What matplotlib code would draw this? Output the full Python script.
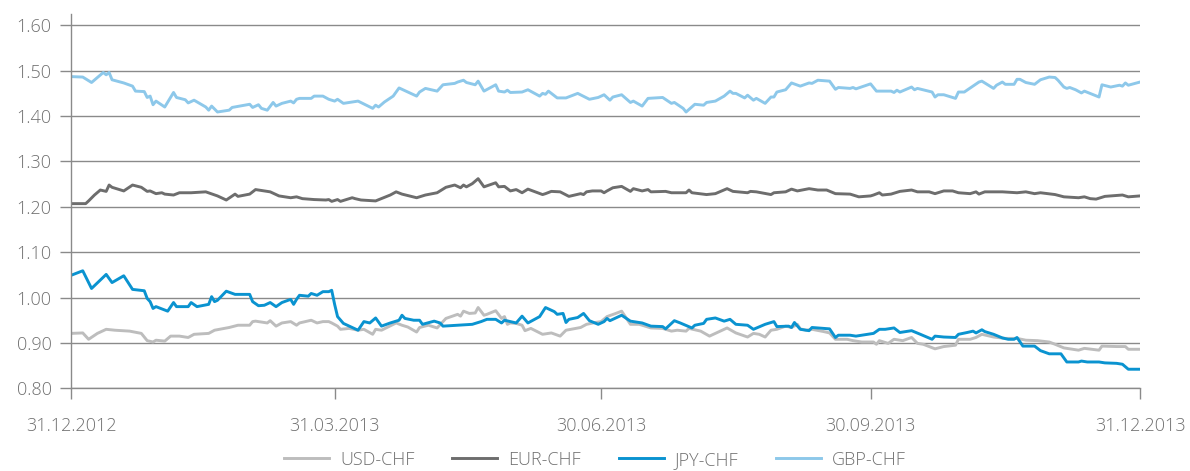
import pandas as pd
import matplotlib
matplotlib.use("Agg")
import matplotlib.pyplot as plt

plt.rcParams['font.family'] = ['Open Sans', 'DejaVu Sans']
plt.rcParams['font.weight'] = 'light'

start = pd.Timestamp('2012-12-31')

# days since 31.12.2012 and rate
usd_days = [0, 4, 6, 9, 12, 15, 20, 24, 26, 28, 29, 32, 34, 37, 40, 42, 47, 49, 54, 57, 61, 62, 63, 64, 67, 68, 70, 72, 75, 77, 78, 80, 82, 84, 86, 88, 89, 91, 92, 95, 98, 100, 103, 104, 106, 111, 113, 115, 118, 119, 122, 125, 128, 132, 133, 134, 136, 138, 139, 141, 142, 145, 147, 148, 149, 150, 152, 154, 155, 157, 161, 164, 167, 169, 174, 176, 179, 181, 183, 186, 188, 191, 194, 198, 202, 205, 207, 210, 211, 215, 218, 224, 227, 231, 233, 235, 237, 239, 241, 244, 246, 248, 249, 251, 253, 257, 259, 261, 265, 267, 270, 274, 275, 276, 279, 281, 284, 287, 289, 291, 295, 298, 302, 303, 307, 309, 311, 315, 319, 323, 326, 330, 334, 336, 339, 344, 346, 351, 352, 357, 360, 361, 365]
usd = [0.921, 0.922, 0.908, 0.921, 0.930, 0.928, 0.926, 0.921, 0.905, 0.902, 0.906, 0.904, 0.915, 0.915, 0.912, 0.919, 0.921, 0.928, 0.934, 0.939, 0.939, 0.947, 0.948, 0.947, 0.944, 0.949, 0.937, 0.944, 0.947, 0.939, 0.944, 0.947, 0.950, 0.944, 0.947, 0.947, 0.944, 0.937, 0.930, 0.932, 0.928, 0.930, 0.919, 0.930, 0.928, 0.944, 0.939, 0.935, 0.924, 0.934, 0.939, 0.933, 0.954, 0.963, 0.959, 0.970, 0.965, 0.966, 0.978, 0.961, 0.963, 0.971, 0.954, 0.958, 0.941, 0.944, 0.943, 0.939, 0.927, 0.932, 0.919, 0.922, 0.915, 0.928, 0.934, 0.941, 0.945, 0.947, 0.958, 0.965, 0.970, 0.941, 0.941, 0.933, 0.932, 0.926, 0.928, 0.926, 0.932, 0.926, 0.915, 0.933, 0.922, 0.913, 0.921, 0.919, 0.913, 0.928, 0.930, 0.937, 0.934, 0.941, 0.931, 0.928, 0.930, 0.925, 0.922, 0.908, 0.908, 0.905, 0.902, 0.902, 0.897, 0.905, 0.899, 0.908, 0.905, 0.912, 0.899, 0.897, 0.887, 0.892, 0.895, 0.908, 0.908, 0.912, 0.919, 0.913, 0.910, 0.910, 0.906, 0.905, 0.902, 0.897, 0.889, 0.884, 0.888, 0.884, 0.893, 0.892, 0.892, 0.886, 0.886]

eur_days = [0, 5, 6, 8, 10, 12, 13, 14, 18, 21, 24, 26, 27, 29, 31, 32, 35, 37, 41, 46, 50, 53, 56, 57, 61, 63, 68, 71, 75, 77, 79, 83, 87, 88, 89, 91, 92, 96, 97, 99, 104, 109, 111, 113, 118, 121, 125, 128, 131, 133, 134, 135, 137, 139, 141, 145, 146, 148, 150, 152, 154, 156, 161, 162, 164, 167, 170, 174, 175, 176, 178, 181, 182, 183, 185, 188, 191, 192, 195, 197, 198, 203, 205, 210, 211, 212, 217, 220, 224, 226, 231, 232, 234, 239, 240, 244, 246, 248, 252, 255, 258, 261, 266, 269, 273, 274, 276, 277, 280, 283, 287, 289, 293, 295, 298, 301, 303, 307, 309, 310, 312, 318, 323, 326, 329, 331, 336, 339, 344, 346, 348, 350, 353, 359, 361, 365]
eur = [1.207, 1.207, 1.213, 1.226, 1.237, 1.234, 1.248, 1.243, 1.235, 1.248, 1.243, 1.234, 1.235, 1.229, 1.231, 1.228, 1.226, 1.231, 1.231, 1.233, 1.224, 1.215, 1.228, 1.223, 1.228, 1.238, 1.233, 1.224, 1.220, 1.222, 1.218, 1.216, 1.215, 1.216, 1.212, 1.216, 1.212, 1.220, 1.218, 1.215, 1.213, 1.226, 1.233, 1.228, 1.220, 1.226, 1.231, 1.243, 1.248, 1.242, 1.248, 1.244, 1.251, 1.262, 1.244, 1.253, 1.244, 1.245, 1.235, 1.238, 1.231, 1.239, 1.227, 1.229, 1.234, 1.233, 1.223, 1.229, 1.227, 1.233, 1.235, 1.235, 1.231, 1.235, 1.242, 1.245, 1.234, 1.240, 1.235, 1.238, 1.233, 1.234, 1.231, 1.231, 1.237, 1.231, 1.227, 1.229, 1.240, 1.234, 1.231, 1.234, 1.233, 1.227, 1.231, 1.233, 1.239, 1.235, 1.240, 1.237, 1.237, 1.229, 1.228, 1.222, 1.224, 1.226, 1.231, 1.226, 1.228, 1.234, 1.237, 1.233, 1.233, 1.229, 1.235, 1.235, 1.231, 1.229, 1.233, 1.228, 1.233, 1.233, 1.231, 1.233, 1.229, 1.231, 1.227, 1.222, 1.220, 1.222, 1.218, 1.217, 1.223, 1.226, 1.222, 1.224]

jpy_days = [0, 4, 7, 12, 14, 18, 21, 25, 26, 27, 28, 29, 33, 35, 36, 40, 41, 43, 47, 48, 49, 50, 53, 56, 61, 62, 64, 66, 68, 70, 72, 75, 76, 77, 78, 81, 82, 84, 86, 88, 89, 90, 91, 93, 95, 98, 100, 102, 104, 106, 109, 112, 113, 114, 117, 119, 120, 124, 126, 127, 132, 137, 140, 142, 145, 147, 148, 152, 154, 156, 160, 162, 165, 166, 168, 169, 170, 173, 175, 177, 180, 182, 183, 184, 188, 191, 195, 198, 202, 203, 206, 208, 212, 213, 216, 217, 220, 223, 225, 227, 231, 233, 237, 240, 241, 245, 246, 247, 249, 252, 253, 259, 261, 262, 266, 268, 272, 274, 276, 278, 281, 283, 287, 290, 294, 295, 298, 302, 303, 306, 308, 309, 311, 312, 315, 318, 320, 322, 323, 325, 329, 331, 334, 336, 338, 340, 344, 345, 347, 351, 353, 357, 359, 361, 365]
jpy = [1.049, 1.059, 1.020, 1.051, 1.033, 1.048, 1.018, 1.015, 0.998, 0.991, 0.976, 0.980, 0.970, 0.989, 0.980, 0.980, 0.989, 0.980, 0.985, 1.002, 0.991, 0.994, 1.014, 1.007, 1.007, 0.991, 0.982, 0.983, 0.989, 0.980, 0.989, 0.996, 0.985, 0.996, 1.005, 1.003, 1.009, 1.005, 1.013, 1.013, 1.016, 0.985, 0.958, 0.943, 0.937, 0.928, 0.947, 0.944, 0.955, 0.937, 0.944, 0.950, 0.961, 0.954, 0.950, 0.950, 0.941, 0.948, 0.944, 0.937, 0.939, 0.941, 0.947, 0.952, 0.952, 0.944, 0.950, 0.944, 0.959, 0.944, 0.958, 0.978, 0.969, 0.963, 0.965, 0.945, 0.952, 0.956, 0.965, 0.949, 0.941, 0.947, 0.954, 0.949, 0.961, 0.948, 0.944, 0.937, 0.936, 0.931, 0.949, 0.944, 0.933, 0.939, 0.943, 0.952, 0.955, 0.948, 0.952, 0.941, 0.939, 0.930, 0.941, 0.947, 0.936, 0.937, 0.934, 0.945, 0.930, 0.927, 0.934, 0.931, 0.912, 0.917, 0.917, 0.915, 0.919, 0.921, 0.930, 0.930, 0.933, 0.923, 0.927, 0.919, 0.908, 0.915, 0.913, 0.912, 0.919, 0.923, 0.926, 0.922, 0.929, 0.925, 0.919, 0.911, 0.908, 0.908, 0.912, 0.893, 0.893, 0.883, 0.876, 0.876, 0.876, 0.858, 0.858, 0.860, 0.858, 0.858, 0.856, 0.855, 0.853, 0.842, 0.842]

gbp_days = [0, 4, 7, 11, 12, 13, 14, 18, 21, 22, 25, 26, 27, 28, 29, 32, 35, 36, 39, 40, 42, 46, 47, 48, 50, 54, 55, 61, 62, 64, 65, 67, 69, 70, 72, 75, 76, 77, 78, 82, 83, 86, 88, 90, 91, 93, 98, 103, 104, 105, 107, 110, 112, 113, 115, 118, 119, 121, 125, 127, 131, 132, 134, 135, 138, 139, 141, 145, 146, 148, 149, 150, 154, 156, 160, 161, 162, 163, 166, 169, 173, 177, 180, 182, 184, 185, 188, 191, 192, 195, 197, 202, 205, 206, 209, 210, 213, 216, 217, 220, 223, 225, 226, 227, 230, 231, 233, 234, 237, 239, 240, 241, 244, 246, 249, 252, 253, 255, 259, 261, 262, 266, 267, 268, 273, 275, 280, 281, 282, 283, 287, 288, 289, 294, 295, 296, 298, 302, 303, 305, 310, 311, 315, 316, 318, 319, 322, 323, 324, 326, 329, 331, 334, 336, 337, 339, 340, 341, 343, 345, 346, 351, 352, 355, 358, 359, 360, 361, 365]
gbp = [1.487, 1.486, 1.474, 1.496, 1.491, 1.496, 1.480, 1.473, 1.466, 1.455, 1.454, 1.441, 1.444, 1.425, 1.433, 1.420, 1.452, 1.441, 1.436, 1.429, 1.435, 1.420, 1.413, 1.422, 1.409, 1.413, 1.419, 1.426, 1.419, 1.425, 1.417, 1.413, 1.430, 1.422, 1.428, 1.433, 1.429, 1.437, 1.439, 1.439, 1.444, 1.444, 1.437, 1.433, 1.437, 1.428, 1.433, 1.417, 1.424, 1.420, 1.431, 1.444, 1.462, 1.459, 1.453, 1.444, 1.453, 1.461, 1.455, 1.469, 1.472, 1.475, 1.479, 1.474, 1.469, 1.477, 1.455, 1.469, 1.455, 1.453, 1.457, 1.452, 1.453, 1.458, 1.444, 1.450, 1.448, 1.455, 1.440, 1.440, 1.450, 1.437, 1.441, 1.447, 1.435, 1.442, 1.447, 1.430, 1.433, 1.422, 1.439, 1.441, 1.428, 1.430, 1.417, 1.409, 1.426, 1.424, 1.430, 1.433, 1.444, 1.455, 1.450, 1.450, 1.440, 1.446, 1.435, 1.439, 1.428, 1.442, 1.442, 1.453, 1.458, 1.473, 1.466, 1.473, 1.472, 1.479, 1.477, 1.459, 1.463, 1.461, 1.463, 1.460, 1.471, 1.455, 1.455, 1.452, 1.457, 1.453, 1.464, 1.458, 1.461, 1.453, 1.442, 1.447, 1.447, 1.439, 1.453, 1.453, 1.475, 1.477, 1.461, 1.468, 1.475, 1.470, 1.470, 1.481, 1.481, 1.474, 1.470, 1.480, 1.486, 1.485, 1.479, 1.464, 1.461, 1.463, 1.458, 1.451, 1.455, 1.442, 1.469, 1.464, 1.468, 1.466, 1.473, 1.468, 1.475]

tick_dates = ['2012-12-31', '2013-03-31', '2013-06-30', '2013-09-30', '2013-12-31']
tick_labels = ['31.12.2012', '31.03.2013', '30.06.2013', '30.09.2013', '31.12.2013']


def to_dates(days):
    return start + pd.to_timedelta(days, unit='D')


grey = '#8a8a8a'
text_col = '#707070'

fig = plt.figure(figsize=(11.9, 4.71), dpi=100)
ax = fig.add_axes([0.0597, 0.1756, 0.8983, 0.7947])

ax.plot(to_dates(usd_days), usd, color='#bdbdbd', lw=2.1, label='USD-CHF')
ax.plot(to_dates(eur_days), eur, color='#6d6d6d', lw=2.1, label='EUR-CHF')
ax.plot(to_dates(gbp_days), gbp, color='#8dc8ea', lw=2.1, label='GBP-CHF')
ax.plot(to_dates(jpy_days), jpy, color='#0a93d0', lw=2.1, label='JPY-CHF')

ax.set_xlim(pd.Timestamp('2012-12-31'), pd.Timestamp('2013-12-31'))
ax.set_ylim(0.80, 1.625)
ax.set_yticks([0.80 + 0.1 * i for i in range(9)])
ax.yaxis.set_major_formatter(matplotlib.ticker.FormatStrFormatter('%.2f'))
ax.set_xticks(pd.to_datetime(tick_dates))
ax.set_xticklabels(tick_labels)

ax.grid(axis='y', color=grey, lw=1)
ax.set_axisbelow(True)
for s in ['top', 'right']:
    ax.spines[s].set_visible(False)
for s in ['left', 'bottom']:
    ax.spines[s].set_color(grey)
    ax.spines[s].set_linewidth(1)
ax.tick_params(axis='both', colors=grey, length=8, width=1, labelcolor=text_col, labelsize=13)
ax.tick_params(axis='y', pad=6)
ax.tick_params(axis='x', pad=13)

handles, labels = ax.get_legend_handles_labels()
order = [0, 1, 3, 2]
fig.legend([handles[i] for i in order], [labels[i] for i in order],
           loc='center', bbox_to_anchor=(0.5, 0.024), ncol=4, frameon=False,
           fontsize=13, labelcolor=text_col, handlelength=2.5,
           handletextpad=0.6, columnspacing=2.1, borderpad=0.1)

fig.savefig('out.png', dpi=100)
